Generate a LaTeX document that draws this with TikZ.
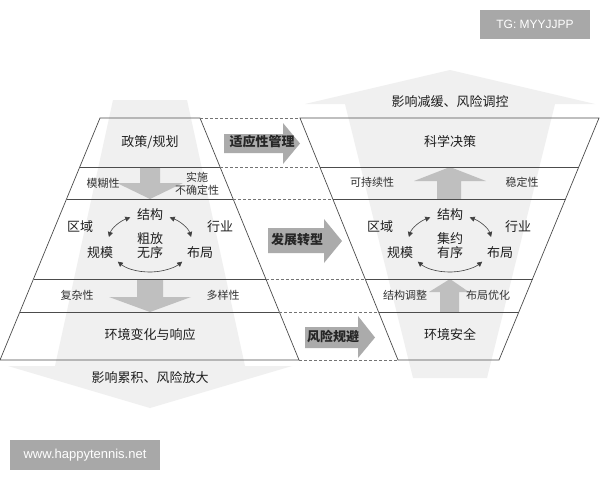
\documentclass[tikz,border=0pt]{standalone}
\usepackage{fontspec}
\setmainfont{Noto Sans CJK SC}
\newfontfamily\wmfont{Liberation Sans}
\usetikzlibrary{arrows.meta}
\begin{document}
\begin{tikzpicture}[x=1pt,y=-1pt,
  bigtxt/.style={font=\fontsize{13}{14}\selectfont, text=black!88, inner sep=0pt, align=center},
  smalltxt/.style={font=\fontsize{11}{13}\selectfont, text=black!80, inner sep=0pt, align=center},
  midtxt/.style={font=\fontsize{13}{14}\selectfont\bfseries, text=black!85, inner sep=0pt},
  frame/.style={draw=black!70, line width=0.7pt},
  dashline/.style={draw=black!55, line width=0.6pt, dash pattern=on 3pt off 2pt},
  bgarrow/.style={fill=gray!12, draw=none},
  smallarrow/.style={fill=gray!50, draw=none},
  midarrow/.style={fill=gray!66, draw=none},
  cyc/.style={{Triangle[length=5pt,width=5pt]}-{Triangle[length=5pt,width=5pt]}, draw=black!75, line width=0.6pt},
  wmbox/.style={fill=gray!68, text=white, inner sep=0pt}
]
\useasboundingbox[fill=white] (0,0) rectangle (600,480);

% large background arrows
\fill[bgarrow] (113,100) -- (187,100) -- (245,366) -- (292,366) -- (150,408) -- (8,366) -- (55,366) -- cycle;
\fill[bgarrow] (450,70) -- (595,104) -- (555,104) -- (487,378) -- (413,378) -- (345,104) -- (305,104) -- cycle;

% small arrows inside the frames
\fill[smallarrow] (140,167) -- (160,167) -- (160,183) -- (183,183) -- (150,199) -- (117,183) -- (140,183) -- cycle;
\fill[smallarrow] (137,279) -- (163,279) -- (163,297) -- (191,297) -- (150,312) -- (109,297) -- (137,297) -- cycle;
\fill[smallarrow] (437,199) -- (461,199) -- (461,181) -- (486,181) -- (450,167) -- (414,181) -- (437,181) -- cycle;
\fill[smallarrow] (440,312) -- (459,312) -- (459,292) -- (469,292) -- (450,279) -- (429,292) -- (440,292) -- cycle;

% left frame
\draw[frame] (100,118) -- (200,118) -- (299,360) -- (0,360) -- cycle;
\draw[frame] (79.75,167) -- (220.05,167);
\draw[frame] (66.5,199) -- (233.1,199);
\draw[frame] (33.5,279) -- (265.9,279);
\draw[frame] (19.8,312) -- (279.4,312);

% right frame
\draw[frame] (300,118) -- (599,118) -- (499,360) -- (398,360) -- cycle;
\draw[frame] (319.8,167) -- (578.75,167);
\draw[frame] (332.8,199) -- (565.5,199);
\draw[frame] (365.2,279) -- (532.5,279);
\draw[frame] (378.6,312) -- (518.8,312);

% dashed links
\draw[dashline] (200,118) -- (300,118);
\draw[dashline] (220.05,167) -- (319.8,167);
\draw[dashline] (233.1,199) -- (332.8,199);
\draw[dashline] (265.9,279) -- (365.2,279);
\draw[dashline] (279.4,312) -- (378.6,312);
\draw[dashline] (299,360) -- (398,360);

% middle arrows
\fill[midarrow] (224,134) -- (283,134) -- (283,123) -- (300,143.5) -- (283,164) -- (283,153) -- (224,153) -- cycle;
\fill[midarrow] (268,228) -- (324,228) -- (324,219) -- (342,241) -- (324,263) -- (324,253) -- (268,253) -- cycle;
\fill[midarrow] (305,327) -- (358,327) -- (358,316) -- (375,337.5) -- (358,358) -- (358,348) -- (305,348) -- cycle;
\node[midtxt] (m1) at (262,142) {适应性管理};
\node[midtxt] (m2) at (297,240) {发展转型};
\node[midtxt] (m3) at (333,337) {风险规避};

% left texts
\node[bigtxt] (l1) at (150,142) {政策/规划};
\node[smalltxt] (l2a) at (103,183) {模糊性};
\node[smalltxt, font=\fontsize{11}{13}\selectfont] (l2b) at (197,184) {实施\\不确定性};
\node[bigtxt] (l3a) at (80,227) {区域};
\node[bigtxt] (l3b) at (220,227) {行业};
\node[bigtxt] (l3c) at (150,215) {结构};
\node[bigtxt] (l3d) at (100,253) {规模};
\node[bigtxt] (l3e) at (200,253) {布局};
\node[bigtxt] (l3f) at (150,246) {粗放\\无序};
\node[smalltxt] (l4a) at (77,295) {复杂性};
\node[smalltxt] (l4b) at (223,295) {多样性};
\node[bigtxt] (l5) at (150,335) {环境变化与响应};
\node[bigtxt] (l6) at (150,378) {影响累积、风险放大};

% right texts
\node[bigtxt] (r0) at (450,102) {影响减缓、风险调控};
\node[bigtxt] (r1) at (450,142) {科学决策};
\node[smalltxt] (r2a) at (372,182) {可持续性};
\node[smalltxt] (r2b) at (522,182) {稳定性};
\node[bigtxt] (r3a) at (380,227) {区域};
\node[bigtxt] (r3b) at (518,227) {行业};
\node[bigtxt] (r3c) at (450,215) {结构};
\node[bigtxt] (r3d) at (400,253) {规模};
\node[bigtxt] (r3e) at (500,253) {布局};
\node[bigtxt] (r3f) at (450,246) {集约\\有序};
\node[smalltxt] (r4a) at (405,295) {结构调整};
\node[smalltxt] (r4b) at (488,295) {布局优化};
\node[bigtxt] (r5) at (450,335) {环境安全};

% cycle arrows
\foreach \cx in {150,450}{
  \draw[cyc] (\cx,243) ++(118:42pt and 29pt) arc[start angle=118,end angle=168,x radius=42pt,y radius=29pt];
  \draw[cyc] (\cx,243) ++(62:42pt and 29pt) arc[start angle=62,end angle=12,x radius=42pt,y radius=29pt];
  \draw[cyc] (\cx,243) ++(220:42pt and 29pt) arc[start angle=220,end angle=320,x radius=42pt,y radius=29pt];
}

% watermarks
\node[wmbox, minimum width=110pt, minimum height=29pt, font=\wmfont\fontsize{12}{14}\selectfont] (tg) at (535,24.5) {TG: MYYJJPP};
\node[wmbox, minimum width=150pt, minimum height=30pt, font=\wmfont\fontsize{13}{15}\selectfont] (www) at (85,455) {www.happytennis.net};
\end{tikzpicture}
\end{document}
